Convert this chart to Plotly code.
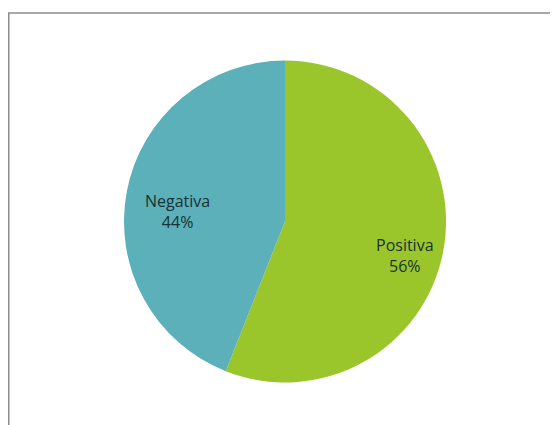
import math
import plotly.graph_objects as go

labels = ["Positiva", "Negativa"]
values = [56, 44]
colors = ["#9AC62B", "#5BB0BA"]

W, H = 558, 425
L, R, T, B = 116, 120, 52, 50
pw, ph = W - L - R, H - T - B

def px_x(x):
    return (x - L) / pw

def px_y(y):
    return (H - B - y) / ph

fig = go.Figure(go.Pie(
    labels=labels,
    values=values,
    sort=False,
    direction="clockwise",
    rotation=0,
    marker=dict(colors=colors, line=dict(width=0)),
    textinfo="none",
    hoverinfo="label+percent",
    showlegend=False,
))

# labels placed at each slice's mid-angle, computed from the data
total = sum(values)
rad = min(pw, ph) / 2
cum = 0
for lab, v in zip(labels, values):
    mid = (cum + v / 2) / total * 2 * math.pi
    cum += v
    f = 0.72
    dx = f * rad * math.sin(mid)
    dy = f * rad * math.cos(mid)
    fig.add_annotation(
        xref="paper", yref="paper",
        x=0.5 + dx / pw, y=0.5 + dy / ph,
        xshift=6, yshift=-12,
        text=f"{lab}<br>{round(v / total * 100)}%",
        showarrow=False, xanchor="center", yanchor="middle",
        font=dict(family="Open Sans", size=16, color="#1A3033"),
    )

fig.add_shape(type="rect", xref="paper", yref="paper",
              x0=px_x(0.75), x1=px_x(549), y0=px_y(430), y1=px_y(5),
              line=dict(color="#8c8c8c", width=1.5), fillcolor="rgba(0,0,0,0)")

fig.update_layout(
    width=W, height=H,
    margin=dict(l=L, r=R, t=T, b=B),
    paper_bgcolor="white",
    plot_bgcolor="white",
)

fig.write_html("out.html")
